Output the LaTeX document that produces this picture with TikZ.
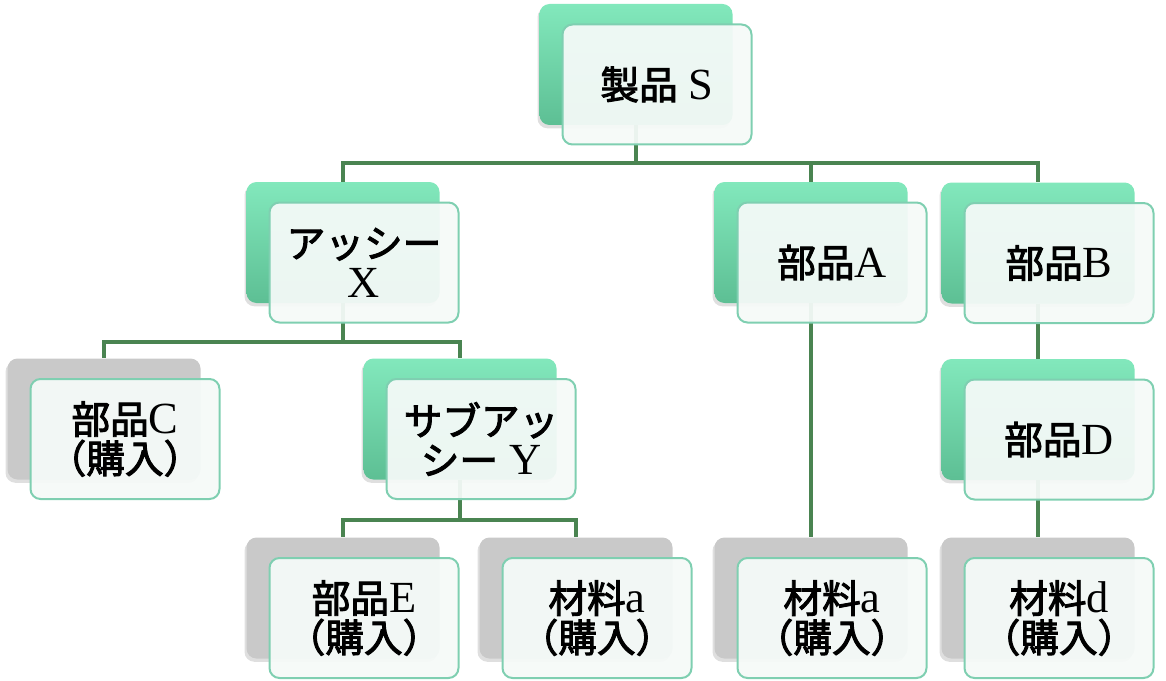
\documentclass[tikz,border=0pt]{standalone}
\usepackage{fontspec}
\setmainfont{Liberation Serif}[Scale=1.15]
\newfontfamily\jp{Noto Sans CJK JP}[AutoFakeBold=2.5]
\usetikzlibrary{shadows}
\newcommand{\J}[1]{{\jp\bfseries #1}}
\definecolor{gtop}{HTML}{82E8BC}
\definecolor{gbot}{HTML}{5DBF94}
\definecolor{graybk}{HTML}{C9C9C9}
\definecolor{frontline}{HTML}{7FCFB1}
\definecolor{frontfill}{HTML}{F5FAF8}
\definecolor{connc}{HTML}{4A8451}
\tikzset{
  backbox/.style={rounded corners=7.5pt, minimum width=144.75pt, minimum height=90.75pt, inner sep=0pt, draw=none,
    drop shadow={shadow xshift=-1.5pt, shadow yshift=-2.5pt, opacity=0.25}},
  backgreen/.style={backbox, top color=gtop, bottom color=gbot},
  backgrey/.style={backbox, fill=graybk},
  frontbox/.style={rounded corners=7.5pt, minimum width=141.75pt, minimum height=90pt, inner sep=0pt,
    draw=frontline, line width=1.5pt, fill=frontfill, fill opacity=0.94, text opacity=1, draw opacity=1,
    align=center, font=\fontsize{29}{29.5}\selectfont},
  conn/.style={draw=connc, line width=2.4pt}
}
\begin{document}
\begin{tikzpicture}[x=0.75pt,y=-0.75pt]
\useasboundingbox (0,0) rectangle (1166,681);
% bus points
\coordinate (busS) at (636,163);
\coordinate (busX) at (343,342);
\coordinate (busY) at (460,520);
% back shapes
\node[backgreen] (S) at (636,64.5) {};
\node[backgreen] (X) at (343,242.5) {};
\node[backgreen] (A) at (811,242.5) {};
\node[backgreen] (B) at (1038,243) {};
\node[backgrey] (C) at (104,419) {};
\node[backgreen] (Y) at (460,419) {};
\node[backgreen] (D) at (1038,419.5) {};
\node[backgrey] (E) at (343,598) {};
\node[backgrey] (Ma) at (576,598) {};
\node[backgrey] (Mb) at (811,598) {};
\node[backgrey] (Md) at (1038,598) {};
% connectors
\draw[conn] (S.south) -- (busS);
\draw[conn] (busS) -| (X.north);
\draw[conn] (busS) -| (A.north);
\draw[conn] (busS) -| (B.north);
\draw[conn] (X.south) -- (busX);
\draw[conn] (busX) -| (C.north);
\draw[conn] (busX) -| (Y.north);
\draw[conn] (Y.south) -- (busY);
\draw[conn] (busY) -| (E.north);
\draw[conn] (busY) -| (Ma.north);
\draw[conn] (A.south) -- (Mb.north);
\draw[conn] (B.south) -- (D.north);
\draw[conn] (D.south) -- (Md.north);
% front boxes
\node[frontbox] (Sf) at ([shift={(21,20)}]S.center) {\J{製品} S};
\node[frontbox] (Xf) at ([shift={(21,20)}]X.center) {\J{アッシー}\\X};
\node[frontbox] (Af) at ([shift={(21,20)}]A.center) {\J{部品}A};
\node[frontbox] (Bf) at ([shift={(21,20)}]B.center) {\J{部品}B};
\node[frontbox] (Cf) at ([shift={(21,20)}]C.center) {\J{部品}C\\\J{（購入）}};
\node[frontbox] (Yf) at ([shift={(21,20)}]Y.center) {\J{サブアッ}\\\J{シー} Y};
\node[frontbox] (Df) at ([shift={(21,20)}]D.center) {\J{部品}D};
\node[frontbox] (Ef) at ([shift={(21,20)}]E.center) {\J{部品}E\\\J{（購入）}};
\node[frontbox] (Maf) at ([shift={(21,20)}]Ma.center) {\J{材料}a\\\J{（購入）}};
\node[frontbox] (Mbf) at ([shift={(21,20)}]Mb.center) {\J{材料}a\\\J{（購入）}};
\node[frontbox] (Mdf) at ([shift={(21,20)}]Md.center) {\J{材料}d\\\J{（購入）}};
\end{tikzpicture}
\end{document}
